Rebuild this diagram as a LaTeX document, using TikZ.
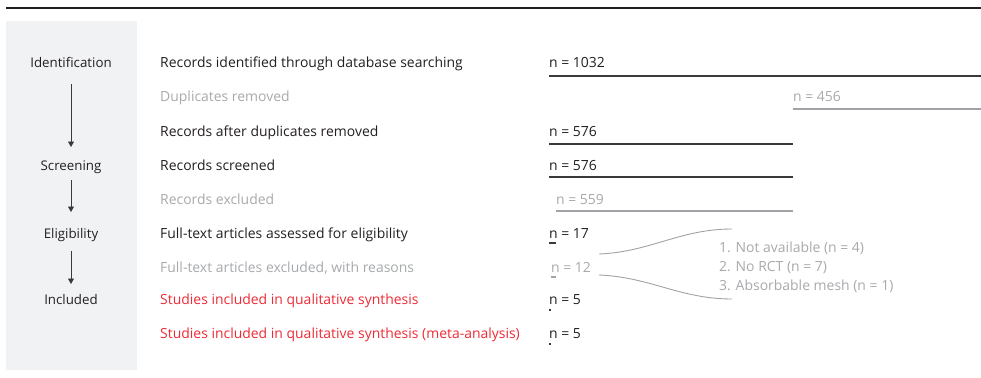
\documentclass[tikz,border=0pt]{standalone}
\usepackage{fontspec}
\setmainfont{Open Sans}
\usetikzlibrary{arrows.meta}
\definecolor{ink}{HTML}{231F20}
\definecolor{faint}{HTML}{A7A9AC}
\definecolor{hot}{HTML}{EE2A35}
\definecolor{panel}{HTML}{F1F2F4}
\definecolor{rule}{HTML}{3A3A3A}
\definecolor{grule}{HTML}{A0A2A5}
\begin{document}
\begin{tikzpicture}[x=1pt,y=-1pt,
  txt/.style={anchor=base west,inner sep=0pt,font=\fontsize{13.95}{15}\selectfont,text=ink},
  gtxt/.style={txt,text=faint},
  rtxt/.style={txt,text=hot},
  stage/.style={anchor=base,inner sep=0pt,font=\fontsize{13.3}{15}\selectfont,text=ink},
  bar/.style={draw=rule,line width=1.3pt},
  gbar/.style={draw=grule,line width=1.1pt},
  flow/.style={draw=rule,line width=0.9pt,-{Triangle[length=5.5pt,width=6pt]}},
  curveline/.style={draw=grule,line width=0.9pt}]
\useasboundingbox (0,0) rectangle (981,377);
\fill[panel] (6,21) rectangle (137,370);
\draw[ink,line width=2.4pt] (6,8) -- (981,8);
% stages
\node[stage] (id) at (71,68) {Identification};
\node[stage] (sc) at (71,170) {Screening};
\node[stage] (el) at (71,238) {Eligibility};
\node[stage] (inc) at (71,304) {Included};
\coordinate (a1s) at (71,84); \coordinate (a1e) at (71,147);
\coordinate (a2s) at (71,180); \coordinate (a2e) at (71,212);
\coordinate (a3s) at (71,251); \coordinate (a3e) at (71,284);
\draw[flow] (a1s) -- (a1e);
\draw[flow] (a2s) -- (a2e);
\draw[flow] (a3s) -- (a3e);
% labels
\node[txt]  (l1) at (160,68)  {Records identified through database searching};
\node[gtxt] (l2) at (160,102) {Duplicates removed};
\node[txt]  (l3) at (160,136) {Records after duplicates removed};
\node[txt]  (l4) at (160,170) {Records screened};
\node[gtxt] (l5) at (160,204) {Records excluded};
\node[txt]  (l6) at (160,238) {Full-text articles assessed for eligibility};
\node[gtxt] (l7) at (160,272) {Full-text articles excluded, with reasons};
\node[rtxt] (l8) at (160,304) {Studies included in qualitative synthesis};
\node[rtxt] (l9) at (160,338) {Studies included in qualitative synthesis (meta-analysis)};
% numbers
\node[txt]  (n1) at (549,68)  {n = 1032};
\node[gtxt] (n2) at (793,102) {n = 456};
\node[txt]  (n3) at (549,136) {n = 576};
\node[txt]  (n4) at (549,170) {n = 576};
\node[gtxt] (n5) at (556,204) {n = 559};
\node[txt]  (n6) at (549,238) {n = 17};
\node[gtxt] (n7) at (551,272) {n = 12};
\node[txt]  (n8) at (549,304) {n = 5};
\node[txt]  (n9) at (549,338) {n = 5};
% proportional bars
\draw[bar]  (549,76) -- (981,76);
\draw[gbar] (793,109) -- (981,109);
\draw[bar]  (549,144) -- (793,144);
\draw[bar]  (549,177) -- (793,177);
\draw[gbar] (556,211) -- (793,211);
\draw[bar]  (549,243) -- (556,243);
\draw[gbar] (551,277) -- (556,277);
\draw[bar]  (549,310) -- (551,310);
\draw[bar]  (549,344) -- (551,344);
% reasons
\node[gtxt] (r1) at (719,252) {1. Not available (n = 4)};
\node[gtxt] (r2) at (719,271) {2. No RCT (n = 7)};
\node[gtxt] (r3) at (719,290) {3. Absorbable mesh (n = 1)};
\coordinate (c1s) at (599,254); \coordinate (c1e) at (732,229);
\coordinate (c2s) at (599,275); \coordinate (c2e) at (732,299);
\draw[curveline] (c1s) .. controls (650,252) and (680,229) .. (c1e);
\draw[curveline] (c2s) .. controls (650,277) and (680,299) .. (c2e);
\end{tikzpicture}
\end{document}
